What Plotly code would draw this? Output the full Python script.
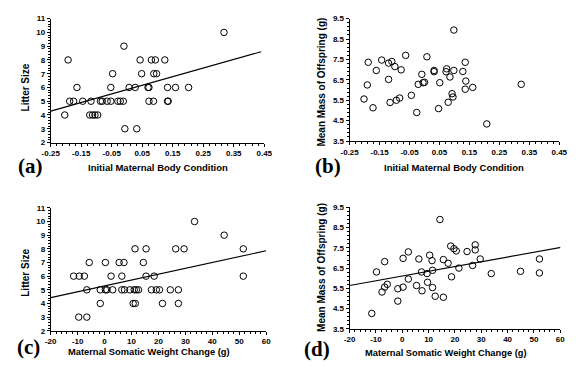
import plotly.graph_objects as go

# ---------------- data ----------------
a_x = [-0.204, -0.193, -0.188, -0.175, -0.164, -0.145, -0.118, -0.087, -0.081, -0.065,
       -0.053, -0.030, -0.022, -0.012, -0.122, -0.113, -0.105, -0.096, -0.053, -0.047,
       -0.010, -0.007, 0.032, 0.007, 0.027, 0.043, 0.048, 0.069, 0.072, 0.072,
       0.087, 0.080, 0.093, 0.088, 0.097, 0.124, 0.133, 0.159, 0.133, 0.135,
       0.202, 0.318]
a_y = [4, 8, 5, 5, 6, 5, 5, 5, 5, 5,
       5, 5, 5, 5, 4, 4, 4, 4, 6, 7,
       9, 3, 3, 6, 6, 8, 7, 6, 6, 5,
       5, 8, 8, 7, 7, 8, 6, 6, 5, 5,
       6, 10]
a_fit_x = [-0.25, 0.44]
a_fit_y = [4.28, 8.6]

b_x = [-0.202, -0.188, -0.191, -0.172, -0.161, -0.143, -0.120, -0.109, -0.099, -0.120,
       -0.115, -0.094, -0.083, -0.078, -0.063, -0.044, -0.026, -0.021, -0.009, -0.005,
       0.000, 0.008, 0.032, 0.032, 0.047, 0.051, 0.074, 0.072, 0.079, 0.085,
       0.092, 0.095, 0.098, 0.098, 0.128, 0.136, 0.138, 0.136, 0.161, 0.208,
       0.323]
b_y = [5.56, 7.36, 6.25, 5.13, 6.96, 7.47, 7.32, 7.40, 7.15, 6.52,
       5.39, 5.50, 5.61, 6.99, 7.70, 5.74, 4.90, 6.28, 6.77, 6.36,
       6.38, 7.63, 6.96, 6.90, 5.09, 6.36, 7.04, 6.90, 5.40, 6.64,
       5.82, 5.66, 6.96, 8.94, 6.91, 7.36, 6.44, 6.04, 6.13, 4.34,
       6.28]

c_x = [-11.5, -9.4, -7.5, -6.6, -5.7, -1.6, -1.6, 0.3, 0.9, 3.0,
       0.3, 2.4, 5.4, 7.2, 6.4, 6.4, 7.4, 9.4, 11.0, 11.8,
       12.6, 10.6, 11.4, 11.3, 15.4, 14.4, 15.4, 18.4, 17.4, 19.2,
       20.4, 21.5, 24.4, 27.4, 27.4, 26.4, 29.5, 33.4, 44.4, 51.5,
       51.5, -9.6, -6.6]
c_y = [6, 6, 6, 5, 7, 4, 5, 5, 5, 5,
       7, 6, 7, 7, 6, 5, 5, 5, 5, 5,
       5, 4, 4, 8, 8, 7, 6, 6, 5, 5,
       5, 4, 5, 5, 4, 8, 8, 10, 9, 8,
       6, 3, 3]
c_fit_x = [-20, 60]
c_fit_y = [4.43, 7.86]

d_x = [-9.8, -6.7, -7.7, -6.7, -5.7, -1.7, -1.7, 0.3, 0.3, 2.3,
       2.3, 5.4, 6.3, 7.3, 7.5, 9.4, 9.6, 10.4, 11.3, 11.5,
       11.5, 12.5, 14.3, 15.6, 15.6, 17.4, 18.4, 19.6, 20.5, 18.7,
       21.5, 24.6, 26.7, 27.7, 27.7, 29.6, 33.8, 44.9, 52.1, 52.1,
       -11.6]
d_y = [6.31, 6.82, 5.32, 5.56, 5.70, 5.48, 4.87, 6.98, 5.56, 7.30,
       5.96, 5.64, 6.95, 6.31, 5.38, 6.23, 5.80, 7.14, 6.87, 6.39,
       5.54, 5.11, 8.90, 6.92, 5.06, 6.74, 7.59, 7.46, 7.35, 6.07,
       6.50, 7.32, 6.63, 7.65, 7.40, 6.95, 6.23, 6.34, 6.95, 6.26,
       4.26]
d_fit_x = [-20, 60.5]
d_fit_y = [5.64, 7.53]

bc_ticks = [-0.25, -0.15, -0.05, 0.05, 0.15, 0.25, 0.35, 0.45]
bc_labels = ["-0.25", "-0.15", "-0.05", "0.05", "0.15", "0.25", "0.35", "0.45"]
wc_ticks = [-20, -10, 0, 10, 20, 30, 40, 50, 60]
wc_labels = ["-20", "-10", "0", "10", "20", "30", "40", "50", "60"]
ls_ticks = [2, 3, 4, 5, 6, 7, 8, 9, 10, 11]
ls_labels = ["2", "3", "4", "5", "6", "7", "8", "9", "10", "11"]
mm_ticks = [3.5, 4.5, 5.5, 6.5, 7.5, 8.5, 9.5]
mm_labels = ["3.5", "4.5", "5.5", "6.5", "7.5", "8.5", "9.5"]

# ---------------- figure ----------------
W, H = 576, 367
FONT = "Liberation Sans, Arial, sans-serif"
fig = go.Figure()

panels = [
    ("x", "y", a_x, a_y, a_fit_x, a_fit_y),
    ("x2", "y2", b_x, b_y, None, None),
    ("x3", "y3", c_x, c_y, c_fit_x, c_fit_y),
    ("x4", "y4", d_x, d_y, d_fit_x, d_fit_y),
]
for xa, ya, px, py, fx, fy in panels:
    fig.add_trace(go.Scatter(x=px, y=py, xaxis=xa, yaxis=ya, mode="markers",
                             marker=dict(symbol="circle-open", size=6.5, color="black",
                                         line=dict(width=1, color="black")),
                             showlegend=False, cliponaxis=False))
    if fx is not None:
        fig.add_trace(go.Scatter(x=fx, y=fy, xaxis=xa, yaxis=ya, mode="lines",
                                 line=dict(color="black", width=1.1),
                                 showlegend=False))

def px_dom(a, b, total):
    return [a / total, b / total]

def py_dom(top, bottom):
    return [1 - bottom / H, 1 - top / H]

tickfont = dict(family=FONT, size=8, color="black", weight="bold")
common = dict(showline=True, linecolor="black", linewidth=1, ticks="outside",
              ticklen=3, tickwidth=1, tickcolor="black", showgrid=False,
              zeroline=False, tickfont=tickfont, tickmode="array")

def xaxis(dom, rng, tv, tt, anchor, mdt):
    return dict(domain=dom, range=rng, tickvals=tv, ticktext=tt, anchor=anchor,
                minor=dict(ticks="outside", ticklen=2, tickcolor="black", dtick=mdt,
                           tick0=rng[0], showgrid=False),
                **common)

def yaxis(dom, rng, tv, tt, anchor, mdt):
    return dict(domain=dom, range=rng, tickvals=tv, ticktext=tt, anchor=anchor,
                minor=dict(ticks="outside", ticklen=2, tickcolor="black", dtick=mdt,
                           tick0=rng[0], showgrid=False),
                **common)

fig.update_layout(
    width=W, height=H, margin=dict(l=0, r=0, t=0, b=0),
    paper_bgcolor="white", plot_bgcolor="white",
    xaxis=xaxis(px_dom(43, 263, W), [-0.25, 0.45], bc_ticks, bc_labels, "y", 0.02),
    yaxis=yaxis(py_dom(15, 142), [2, 11], ls_ticks, ls_labels, "x", 0.2),
    xaxis2=xaxis(px_dom(351, 567, W), [-0.25, 0.45], bc_ticks, bc_labels, "y2", 0.02),
    yaxis2=yaxis(py_dom(15, 140.5), [3.5, 9.5], mm_ticks, mm_labels, "x2", 0.2),
    xaxis3=xaxis(px_dom(43, 265, W), [-20, 60], wc_ticks, wc_labels, "y3", 2),
    yaxis3=yaxis(py_dom(209, 335), [2, 11], ls_ticks, ls_labels, "x3", 0.2),
    xaxis4=xaxis(px_dom(351, 568, W), [-20, 60], wc_ticks, wc_labels, "y4", 2),
    yaxis4=yaxis(py_dom(208.5, 333), [3.5, 9.5], mm_ticks, mm_labels, "x4", 0.2),
)

def ann(text, x, y, size, family=FONT, angle=0):
    fig.add_annotation(text=text, x=x / W, y=1 - y / H, xref="paper", yref="paper",
                       showarrow=False, textangle=angle, xanchor="center", yanchor="middle",
                       font=dict(family=family, size=size, color="black", weight="bold"))

ann("Initial Maternal Body Condition", 154, 168, 9.5)
ann("Initial Maternal Body Condition", 459, 168, 9.5)
ann("Maternal Somatic Weight Change (g)", 144, 357, 9.3)
ann("Maternal Somatic Weight Change (g)", 450, 357.5, 9.3)
ann("Litter Size", 17, 85, 10, angle=-90)
ann("Litter Size", 17, 275, 10, angle=-90)
ann("Mean Mass of Offspring (g)", 322, 80, 10, angle=-90)
ann("Mean Mass of Offspring (g)", 322, 270, 10, angle=-90)
SERIF = "Liberation Serif, Times New Roman, serif"
ann("(a)", 22, 166, 21, family=SERIF)
ann("(b)", 329, 166, 21, family=SERIF)
ann("(c)", 20, 352, 21, family=SERIF)
ann("(d)", 317, 354, 21, family=SERIF)

fig.write_html("out.html")
